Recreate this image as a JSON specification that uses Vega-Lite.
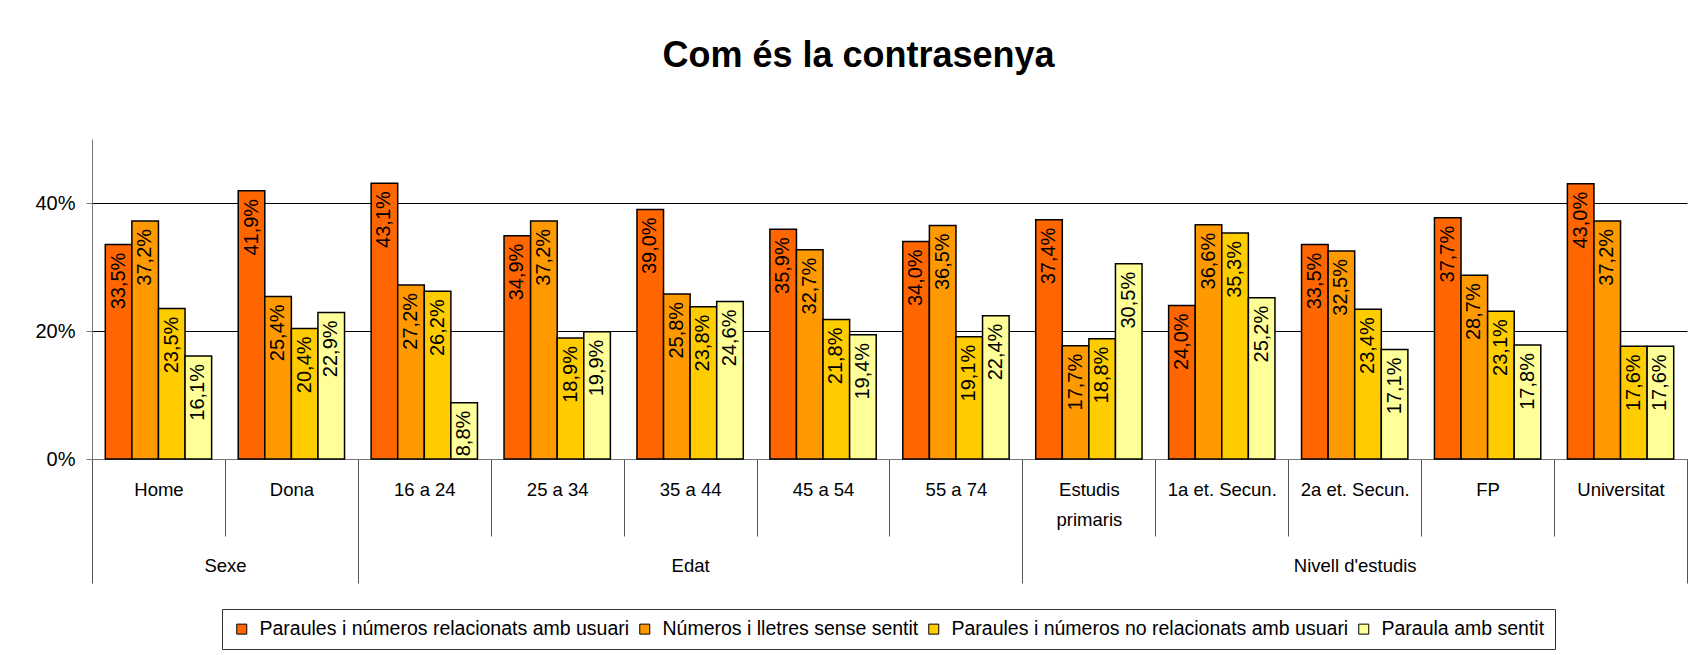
{
  "$schema": "https://vega.github.io/schema/vega-lite/v6.json",
  "width": 1595,
  "height": 320,
  "autosize": {"type": "none"},
  "padding": {"left": 92, "top": 139, "right": 2, "bottom": 196},
  "background": "white",
  "config": {
    "locale": {"number": {"decimal": ",", "thousands": ".", "grouping": [3], "currency": ["", " €"]}},
    "font": "Liberation Sans",
    "view": {"stroke": null}
  },
  "title": {
    "text": "Com és la contrasenya",
    "font": "Liberation Sans",
    "fontSize": 36,
    "fontWeight": "bold",
    "color": "#000",
    "anchor": "middle",
    "dx": -31,
    "offset": 36,
    "baseline": "alphabetic"
  },
  "data": {
    "values": [
      {"cat": "Home", "grp": "Sexe", "serie": "Paraules i números relacionats amb usuari", "v": 0.335},
      {"cat": "Home", "grp": "Sexe", "serie": "Números i lletres sense sentit", "v": 0.372},
      {"cat": "Home", "grp": "Sexe", "serie": "Paraules i números no relacionats amb usuari", "v": 0.235},
      {"cat": "Home", "grp": "Sexe", "serie": "Paraula amb sentit", "v": 0.161},
      {"cat": "Dona", "grp": "Sexe", "serie": "Paraules i números relacionats amb usuari", "v": 0.419},
      {"cat": "Dona", "grp": "Sexe", "serie": "Números i lletres sense sentit", "v": 0.254},
      {"cat": "Dona", "grp": "Sexe", "serie": "Paraules i números no relacionats amb usuari", "v": 0.204},
      {"cat": "Dona", "grp": "Sexe", "serie": "Paraula amb sentit", "v": 0.229},
      {"cat": "16 a 24", "grp": "Edat", "serie": "Paraules i números relacionats amb usuari", "v": 0.431},
      {"cat": "16 a 24", "grp": "Edat", "serie": "Números i lletres sense sentit", "v": 0.272},
      {"cat": "16 a 24", "grp": "Edat", "serie": "Paraules i números no relacionats amb usuari", "v": 0.262},
      {"cat": "16 a 24", "grp": "Edat", "serie": "Paraula amb sentit", "v": 0.088},
      {"cat": "25 a 34", "grp": "Edat", "serie": "Paraules i números relacionats amb usuari", "v": 0.349},
      {"cat": "25 a 34", "grp": "Edat", "serie": "Números i lletres sense sentit", "v": 0.372},
      {"cat": "25 a 34", "grp": "Edat", "serie": "Paraules i números no relacionats amb usuari", "v": 0.189},
      {"cat": "25 a 34", "grp": "Edat", "serie": "Paraula amb sentit", "v": 0.199},
      {"cat": "35 a 44", "grp": "Edat", "serie": "Paraules i números relacionats amb usuari", "v": 0.390},
      {"cat": "35 a 44", "grp": "Edat", "serie": "Números i lletres sense sentit", "v": 0.258},
      {"cat": "35 a 44", "grp": "Edat", "serie": "Paraules i números no relacionats amb usuari", "v": 0.238},
      {"cat": "35 a 44", "grp": "Edat", "serie": "Paraula amb sentit", "v": 0.246},
      {"cat": "45 a 54", "grp": "Edat", "serie": "Paraules i números relacionats amb usuari", "v": 0.359},
      {"cat": "45 a 54", "grp": "Edat", "serie": "Números i lletres sense sentit", "v": 0.327},
      {"cat": "45 a 54", "grp": "Edat", "serie": "Paraules i números no relacionats amb usuari", "v": 0.218},
      {"cat": "45 a 54", "grp": "Edat", "serie": "Paraula amb sentit", "v": 0.194},
      {"cat": "55 a 74", "grp": "Edat", "serie": "Paraules i números relacionats amb usuari", "v": 0.340},
      {"cat": "55 a 74", "grp": "Edat", "serie": "Números i lletres sense sentit", "v": 0.365},
      {"cat": "55 a 74", "grp": "Edat", "serie": "Paraules i números no relacionats amb usuari", "v": 0.191},
      {"cat": "55 a 74", "grp": "Edat", "serie": "Paraula amb sentit", "v": 0.224},
      {"cat": "Estudis primaris", "grp": "Nivell d'estudis", "serie": "Paraules i números relacionats amb usuari", "v": 0.374},
      {"cat": "Estudis primaris", "grp": "Nivell d'estudis", "serie": "Números i lletres sense sentit", "v": 0.177},
      {"cat": "Estudis primaris", "grp": "Nivell d'estudis", "serie": "Paraules i números no relacionats amb usuari", "v": 0.188},
      {"cat": "Estudis primaris", "grp": "Nivell d'estudis", "serie": "Paraula amb sentit", "v": 0.305},
      {"cat": "1a et. Secun.", "grp": "Nivell d'estudis", "serie": "Paraules i números relacionats amb usuari", "v": 0.240},
      {"cat": "1a et. Secun.", "grp": "Nivell d'estudis", "serie": "Números i lletres sense sentit", "v": 0.366},
      {"cat": "1a et. Secun.", "grp": "Nivell d'estudis", "serie": "Paraules i números no relacionats amb usuari", "v": 0.353},
      {"cat": "1a et. Secun.", "grp": "Nivell d'estudis", "serie": "Paraula amb sentit", "v": 0.252},
      {"cat": "2a et. Secun.", "grp": "Nivell d'estudis", "serie": "Paraules i números relacionats amb usuari", "v": 0.335},
      {"cat": "2a et. Secun.", "grp": "Nivell d'estudis", "serie": "Números i lletres sense sentit", "v": 0.325},
      {"cat": "2a et. Secun.", "grp": "Nivell d'estudis", "serie": "Paraules i números no relacionats amb usuari", "v": 0.234},
      {"cat": "2a et. Secun.", "grp": "Nivell d'estudis", "serie": "Paraula amb sentit", "v": 0.171},
      {"cat": "FP", "grp": "Nivell d'estudis", "serie": "Paraules i números relacionats amb usuari", "v": 0.377},
      {"cat": "FP", "grp": "Nivell d'estudis", "serie": "Números i lletres sense sentit", "v": 0.287},
      {"cat": "FP", "grp": "Nivell d'estudis", "serie": "Paraules i números no relacionats amb usuari", "v": 0.231},
      {"cat": "FP", "grp": "Nivell d'estudis", "serie": "Paraula amb sentit", "v": 0.178},
      {"cat": "Universitat", "grp": "Nivell d'estudis", "serie": "Paraules i números relacionats amb usuari", "v": 0.430},
      {"cat": "Universitat", "grp": "Nivell d'estudis", "serie": "Números i lletres sense sentit", "v": 0.372},
      {"cat": "Universitat", "grp": "Nivell d'estudis", "serie": "Paraules i números no relacionats amb usuari", "v": 0.176},
      {"cat": "Universitat", "grp": "Nivell d'estudis", "serie": "Paraula amb sentit", "v": 0.176}
    ]
  },
  "layer": [
    {
      "mark": {"type": "bar", "stroke": "#000", "strokeWidth": 1.5},
      "encoding": {
        "x": {
          "field": "cat", "type": "nominal", "sort": null,
          "scale": {"paddingInner": 0, "paddingOuter": 0},
          "axis": {
            "orient": "bottom", "title": null, "offset": 0, "ticks": true, "tickBand": "extent", "tickSize": 77,
            "tickColor": "#555", "tickWidth": 1, "domain": true, "domainColor": "#777", "grid": false,
            "labelAngle": 0, "labelFont": "Liberation Sans", "labelFontSize": 18.5, "labelColor": "#000",
            "labelPadding": -56, "labelBaseline": "top", "labelLineHeight": 30, "labelOverlap": false,
            "labelExpr": "datum.label == 'Estudis primaris' ? ['Estudis', 'primaris'] : datum.label"
          }
        },
        "xOffset": {"field": "serie", "type": "nominal", "sort": null, "scale": {"paddingInner": 0, "paddingOuter": 0.5}},
        "y": {
          "field": "v", "type": "quantitative",
          "scale": {"domain": [0, 0.5], "nice": false},
          "axis": {
            "title": null, "values": [0, 0.2, 0.4], "format": ".0%", "grid": true, "gridColor": "#000", "gridWidth": 1,
            "domainColor": "#777", "tickColor": "#777", "tickSize": 6, "labelFont": "Liberation Sans",
            "labelFontSize": 20, "labelColor": "#000", "labelPadding": 11
          }
        },
        "color": {
          "field": "serie", "type": "nominal", "sort": null,
          "scale": {"range": ["#FF6600", "#FF9900", "#FFCC00", "#FFFF99"]},
          "legend": {
            "title": null, "orient": "none", "legendX": 130, "legendY": 470, "direction": "horizontal", "columns": 4,
            "strokeColor": "#333", "fillColor": "white", "padding": 10, "symbolType": "square", "symbolSize": 100,
            "symbolStrokeColor": "#000", "symbolStrokeWidth": 1, "symbolOpacity": 1, "labelFont": "Liberation Sans",
            "labelFontSize": 19.5, "labelColor": "#000", "labelLimit": 600, "labelOffset": 8, "columnPadding": 5
          }
        }
      }
    },
    {
      "mark": {"type": "text", "angle": 270, "align": "right", "baseline": "middle", "dx": -8, "fontSize": 20, "font": "Liberation Sans", "color": "#000"},
      "encoding": {
        "x": {
          "field": "cat", "type": "nominal", "sort": null,
          "axis": {
            "orient": "bottom", "title": null, "offset": 0, "ticks": true, "tickBand": "extent", "tickSize": 124, "tickColor": "#555", "tickWidth": 1,
            "tickOpacity": {"condition": {"test": "datum.value == null || indexof(['Dona', '55 a 74', 'Universitat'], datum.value) >= 0", "value": 1}, "value": 0},
            "domain": false, "grid": false, "labelAngle": 0, "labelFont": "Liberation Sans", "labelFontSize": 18.5, "labelColor": "#000",
            "labelPadding": -27, "labelBaseline": "top", "labelOverlap": false,
            "labelOffset": {"condition": {"test": "datum.value == 'Home'", "value": 66.5}, "value": 0},
            "labelExpr": "datum.value == 'Home' ? 'Sexe' : datum.value == '35 a 44' ? 'Edat' : datum.value == '2a et. Secun.' ? \"Nivell d'estudis\" : ''"
          }
        },
        "xOffset": {"field": "serie", "type": "nominal", "sort": null},
        "y": {"field": "v", "type": "quantitative"},
        "text": {"field": "v", "type": "quantitative", "format": ".1%"}
      }
    }
  ],
  "resolve": {"axis": {"x": "independent"}}
}
